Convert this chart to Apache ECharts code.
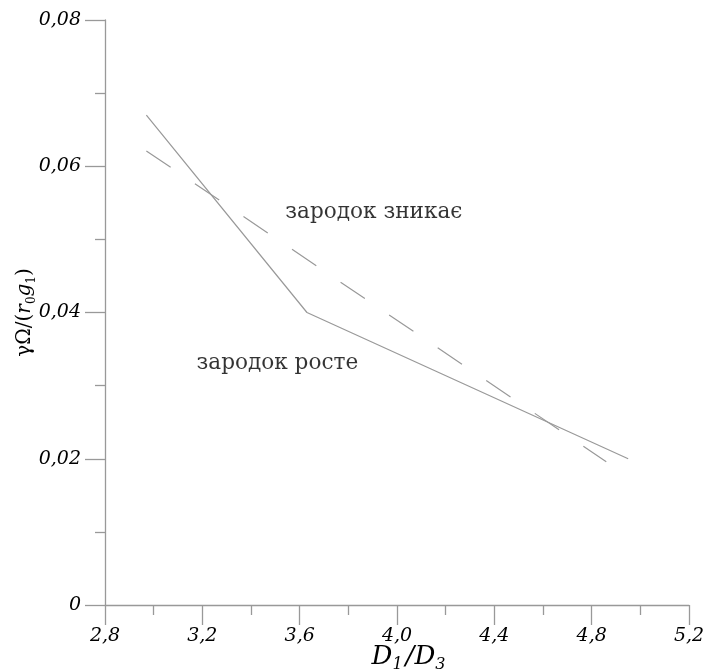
<!DOCTYPE html>
<html>
<head>
<meta charset="utf-8">
<script src="https://cdn.jsdelivr.net/npm/echarts@6/dist/echarts.min.js"></script>
<style>
  html, body { margin: 0; padding: 0; background: #fff; }
  #chart { width: 707px; height: 671px; }
</style>
</head>
<body>
<div id="chart"></div>
<script>
// дані з графіка
var solidX = [2.97, 3.63, 4.95];
var solidY = [0.067, 0.040, 0.020];
var dashedX = [2.97, 4.86];
var dashedY = [0.0621, 0.0196];
var noteText = ['зародок зникає', 'зародок росте'];
var noteX = [3.541, 3.176];
var noteY = [0.0537, 0.0331];
var xTicks = [2.8, 3.2, 3.6, 4.0, 4.4, 4.8, 5.2];
var yTicks = [0, 0.02, 0.04, 0.06, 0.08];

var FONT = 'DejaVu Serif';
var GREY = '#999';
var INK = '#000';

function pairs(xs, ys) {
	var out = [];
	for (var i = 0; i < xs.length; i++) out.push([xs[i], ys[i]]);
	return out;
}

var notes = [];
for (var i = 0; i < noteText.length; i++) {
	notes.push({ value: [noteX[i], noteY[i]], label: { formatter: noteText[i] } });
}

var chart = echarts.init(document.getElementById('chart'));

var axisCommon = {
	axisLine: { show: true, lineStyle: { color: GREY, width: 1.3 } },
	axisTick: { show: true, length: 20, lineStyle: { color: GREY, width: 1.3 } },
	minorTick: { show: true, splitNumber: 2, length: 10, lineStyle: { color: GREY, width: 1.3 } },
	splitLine: { show: false },
	nameMoveOverlap: false
};

var option = {
	backgroundColor: '#fff',
	animation: false,
	grid: { left: 105, right: 18, top: 20, bottom: 66, containLabel: false, outerBoundsMode: 'none' },
	xAxis: echarts.util.merge({
		type: 'value',
		min: xTicks[0],
		max: xTicks[xTicks.length - 1],
		interval: 0.4,
		axisLabel: {
			margin: 22,
			fontFamily: FONT, fontStyle: 'italic', fontSize: 19, color: INK,
			formatter: function (v) { return v.toFixed(1).replace('.', ','); }
		},
		name: '{d|D}{s|1}{d|/D}{s|3}',
		nameLocation: 'middle',
		nameGap: 36,
		nameTextStyle: {
			padding: [0, 0, 0, 26],
			rich: {
				d: { fontFamily: FONT, fontStyle: 'italic', fontSize: 26, color: INK, lineHeight: 32 },
				s: { fontFamily: FONT, fontStyle: 'italic', fontSize: 16, color: INK, lineHeight: 32, verticalAlign: 'bottom', padding: [0, 3, 0, 0] }
			}
		}
	}, axisCommon, true),
	yAxis: echarts.util.merge({
		type: 'value',
		min: yTicks[0],
		max: yTicks[yTicks.length - 1],
		interval: 0.02,
		axisLabel: {
			margin: 24,
			fontFamily: FONT, fontStyle: 'italic', fontSize: 19, color: INK,
			formatter: function (v) { return v === 0 ? '0' : v.toFixed(2).replace('.', ','); }
		},
		name: '{n|γΩ/(}{i|r}{s|0}{i|g}{s|1}{n|)}',
		nameLocation: 'middle',
		nameRotate: 90,
		nameGap: 67,
		nameTextStyle: {
			rich: {
				n: { fontFamily: FONT, fontSize: 20, color: INK, lineHeight: 26 },
				i: { fontFamily: FONT, fontStyle: 'italic', fontSize: 20, color: INK, lineHeight: 26 },
				s: { fontFamily: FONT, fontSize: 12, color: INK, lineHeight: 26, verticalAlign: 'bottom' }
			}
		}
	}, axisCommon, true),
	series: [
		{
			name: 'solid',
			type: 'line',
			data: pairs(solidX, solidY),
			showSymbol: false,
			lineStyle: { color: GREY, width: 1.2, type: 'solid' }
		},
		{
			name: 'dashed',
			type: 'line',
			data: pairs(dashedX, dashedY),
			showSymbol: false,
			lineStyle: { color: GREY, width: 1.2, type: [29.3, 29.3] }
		},
		{
			name: 'notes',
			type: 'scatter',
			symbolSize: 0,
			data: notes,
			label: {
				show: true,
				position: 'right',
				distance: 0,
				fontFamily: FONT,
				fontSize: 21.6,
				color: INK
			}
		}
	]
};

chart.setOption(option);
</script>
</body>
</html>
